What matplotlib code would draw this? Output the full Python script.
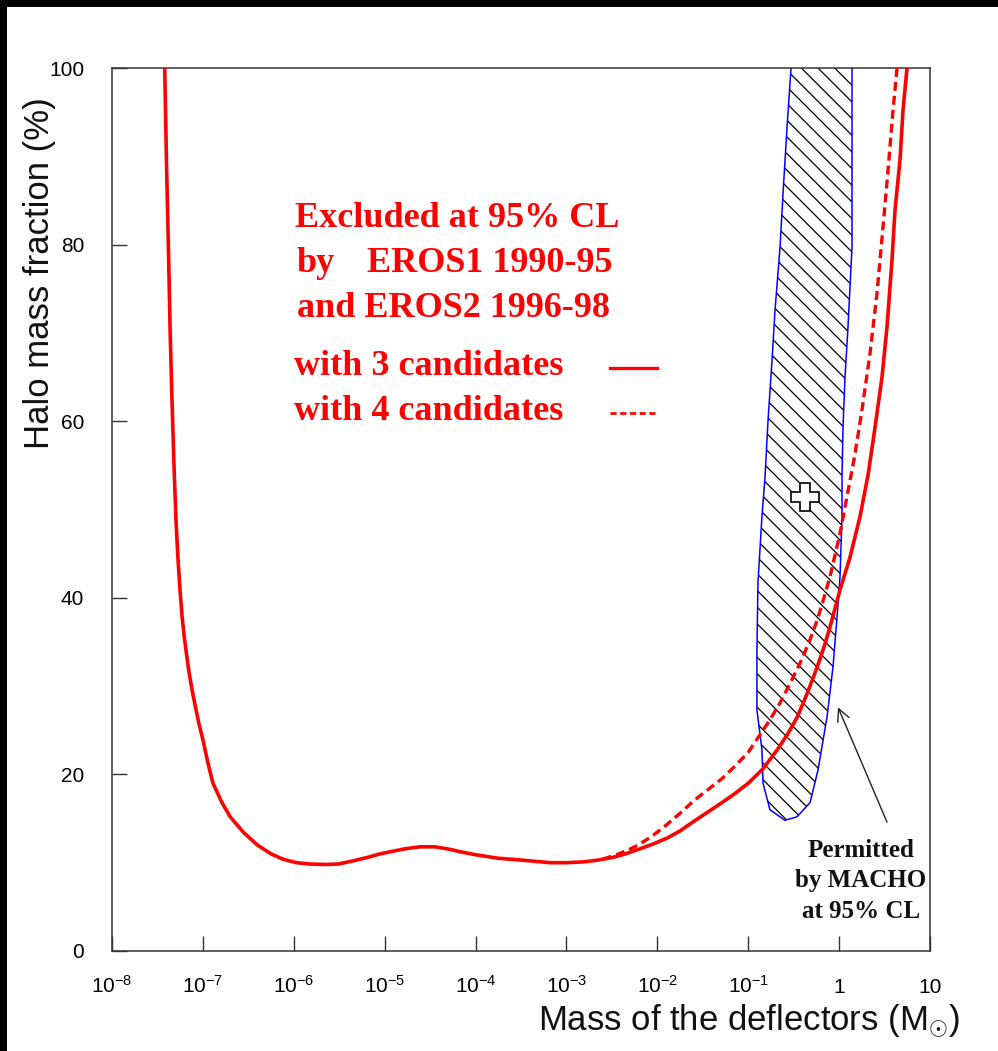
import numpy as np
import matplotlib
matplotlib.use("Agg")
import matplotlib.pyplot as plt
from matplotlib.patches import Rectangle
from matplotlib.lines import Line2D

# ---------------- data (log10 of mass in solar masses, halo fraction in %) ----------------
solid_log_mass = [-7.42, -7.40, -7.38, -7.36, -7.34, -7.318, -7.296, -7.274, -7.252, -7.23,
                  -7.208, -7.18, -7.153, -7.12, -7.087, -7.045, -6.999, -6.945, -6.889, -6.79,
                  -6.70, -6.55, -6.40, -6.25, -6.12, -5.97,
                  -5.82, -5.65, -5.51, -5.35, -5.19, -5.05, -4.91, -4.76, -4.61, -4.45, -4.30,
                  -4.15, -4.0, -3.75, -3.5, -3.18, -3.0, -2.80, -2.65, -2.49, -2.35, -2.21,
                  -2.05, -1.89, -1.75, -1.61, -1.45, -1.29, -1.15, -1.00, -0.84, -0.68, -0.57,
                  -0.46, -0.35, -0.24, -0.17, -0.10, 0.01, 0.12, 0.23, 0.32, 0.395, 0.472,
                  0.527, 0.582, 0.615, 0.670, 0.703, 0.747]
solid_frac = [100.0, 89.0, 80.0, 70.0, 62.4, 55.0, 48.8, 44.4, 40.9, 38.0,
              35.8, 33.6, 31.6, 29.6, 27.9, 25.8, 23.9, 21.3, 19.0, 16.8,
              15.2, 13.4, 12.0, 11.0, 10.4, 10.0,
              9.85, 9.8, 9.85, 10.2, 10.6, 11.0, 11.3, 11.6, 11.8, 11.8, 11.55,
              11.2, 10.9, 10.5, 10.3, 10.0, 10.0, 10.1, 10.3, 10.6, 11.0, 11.5,
              12.1, 12.8, 13.6, 14.6, 15.7, 16.8, 17.8, 19.0, 20.6, 22.8, 24.5,
              26.5, 29.2, 32.2, 34.3, 36.7, 40.9, 44.6, 49.2, 54.0, 59.3, 65.0,
              70.7, 78.3, 83.9, 89.6, 95.2, 100.0]

dashed_log_mass = [-2.60, -2.45, -2.33, -2.21, -2.06, -1.92, -1.75, -1.59, -1.44, -1.29, -1.15,
                   -1.00, -0.87, -0.76, -0.65, -0.54, -0.43, -0.33, -0.24, -0.17, -0.10, 0.01,
                   0.10, 0.17, 0.252, 0.340, 0.417, 0.483, 0.538, 0.593, 0.637]
dashed_frac = [10.4, 10.9, 11.4, 12.0, 13.0, 14.1, 15.6, 17.1, 18.3, 19.5, 20.9,
               22.5, 24.5, 26.2, 28.1, 30.3, 32.6, 35.0, 37.5, 39.9, 42.4, 47.3,
               52.2, 56.0, 61.3, 67.7, 74.5, 82.0, 88.4, 95.2, 100.0]

# MACHO 95% CL allowed region (boundary, counter-clockwise from top-left)
macho_log_mass = [-0.529, -0.573, -0.617, -0.650, -0.705, -0.738, -0.782, -0.815, -0.849,
                  -0.893, -0.904, -0.904, -0.849, -0.837, -0.761, -0.596, -0.463, -0.320,
                  -0.232, -0.133, -0.067, -0.023, 0.010, 0.032, 0.032, 0.043, 0.065, 0.098,
                  0.142, 0.142]
macho_frac = [100.0, 93.3, 85.8, 79.7, 72.6, 66.9, 60.1, 53.7, 49.2,
              41.7, 34.1, 27.3, 22.8, 19.0, 16.0, 14.8, 15.2, 16.8,
              20.5, 26.5, 32.2, 37.8, 42.4, 49.2, 53.7, 59.3, 65.0, 70.7,
              79.7, 100.0]
macho_best_log_mass = -0.375
macho_best_frac = 51.4

x_tick_values = [1e-8, 1e-7, 1e-6, 1e-5, 1e-4, 1e-3, 1e-2, 1e-1, 1.0, 10.0]
x_tick_labels = [r"$10^{-8}$", r"$10^{-7}$", r"$10^{-6}$", r"$10^{-5}$", r"$10^{-4}$",
                 r"$10^{-3}$", r"$10^{-2}$", r"$10^{-1}$", "1", "10"]
y_tick_values = [0, 20, 40, 60, 80, 100]
y_tick_labels = ["0", "20", "40", "60", "80", "100"]

# ---------------- style ----------------
plt.rcParams["font.family"] = ["Liberation Sans", "DejaVu Sans"]
plt.rcParams["mathtext.fontset"] = "custom"
plt.rcParams["mathtext.rm"] = "Liberation Sans"
plt.rcParams["mathtext.it"] = "Liberation Sans:italic"
plt.rcParams["mathtext.bf"] = "Liberation Sans:bold"
plt.rcParams["hatch.linewidth"] = 0.9

W, H = 998, 1051
fig = plt.figure(figsize=(W / 100, H / 100), dpi=100, facecolor="white")
# black frame bands (top and left)
fig.patches.append(Rectangle((0, 1 - 7 / H), 1, 7 / H, transform=fig.transFigure,
                             facecolor="black", edgecolor="none", zorder=0))
fig.patches.append(Rectangle((0, 0), 7 / W, 1, transform=fig.transFigure,
                             facecolor="black", edgecolor="none", zorder=0))

ax = fig.add_axes([112 / W, 1 - 951 / H, 818 / W, 883 / H])
ax.set_xscale("log")
ax.set_xlim(1e-8, 10)
ax.set_ylim(0, 100)

solid_mass = 10.0 ** np.array(solid_log_mass)
dashed_mass = 10.0 ** np.array(dashed_log_mass)
macho_mass = 10.0 ** np.array(macho_log_mass)

# MACHO region: hatched fill + blue outline
ax.fill(macho_mass, macho_frac, facecolor="none", edgecolor="black", linewidth=0,
        hatch="\\\\", zorder=1)
ax.plot(macho_mass, macho_frac, color="#0000ff", lw=1.1, zorder=2)
ax.plot([10.0 ** macho_best_log_mass], [macho_best_frac], marker="P", ms=20,
        mfc="white", mec="black", mew=1.2, zorder=5, linestyle="none")

# EROS curves
ax.plot(dashed_mass, dashed_frac, color="#ff0000", lw=2.4, dashes=(2.7, 1.5), zorder=3)
ax.plot(solid_mass, solid_frac, color="#ff0000", lw=2.6, zorder=4)

# axes styling
for s in ax.spines.values():
    s.set_color("#333333")
    s.set_linewidth(1.1)
ax.minorticks_off()
ax.set_xticks(x_tick_values)
ax.set_xticklabels(x_tick_labels)
ax.set_yticks(y_tick_values)
ax.set_yticklabels(y_tick_labels)
ax.tick_params(axis="both", direction="in", length=11, width=1.0, color="#333333",
               labelsize=15, top=False, right=False)
ax.tick_params(axis="x", pad=30)
ax.tick_params(axis="y", pad=20)
for lab in ax.get_xticklabels():
    lab.set_verticalalignment("baseline")

fig.text(40 / W, 1 - 273 / H, "Halo mass fraction (%)", rotation=90, ha="center",
         va="center", fontsize=25, color="#111111")
fig.text(749 / W, 1 - 1030 / H, r"Mass of the deflectors (M$_{\odot}$)", ha="center",
         va="baseline", fontsize=25, color="#111111")

# red annotation text
red_kw = dict(transform=ax.transAxes, color="#ff0000", fontsize=26, fontweight="bold",
              family="Liberation Serif", va="baseline", ha="left")
ax.text(0.2237, 0.8199, "Excluded at 95% CL", **red_kw)
ax.text(0.2262, 0.7690, "by", **red_kw)
ax.text(0.3117, 0.7690, "EROS1 1990-95", **red_kw)
ax.text(0.2262, 0.7180, "and EROS2 1996-98", **red_kw)
ax.text(0.2225, 0.6523, "with 3 candidates", **red_kw)
ax.text(0.2225, 0.6014, "with 4 candidates", **red_kw)
ax.add_line(Line2D([0.609, 0.666], [0.660, 0.660], transform=ax.transAxes,
                   color="#ff0000", lw=2.4))
ax.add_line(Line2D([0.609, 0.666], [0.609, 0.609], transform=ax.transAxes,
                   color="#ff0000", lw=2.0, dashes=(2.2, 1.3)))

# MACHO annotation
ax.text(0.9156, 0.0793, "Permitted\nby MACHO\nat 95% CL", transform=ax.transAxes,
        ha="center", va="center", multialignment="center", linespacing=1.42,
        fontsize=18, fontweight="bold", family="Liberation Serif", color="#111111")
ax.annotate("", xy=(10.0 ** -0.012, 27.6), xytext=(10.0 ** 0.527, 14.6),
            arrowprops=dict(arrowstyle="->", lw=1.0, color="#222222", mutation_scale=22,
                            shrinkA=0, shrinkB=0))

fig.savefig("out.png", dpi=100, facecolor="white")
